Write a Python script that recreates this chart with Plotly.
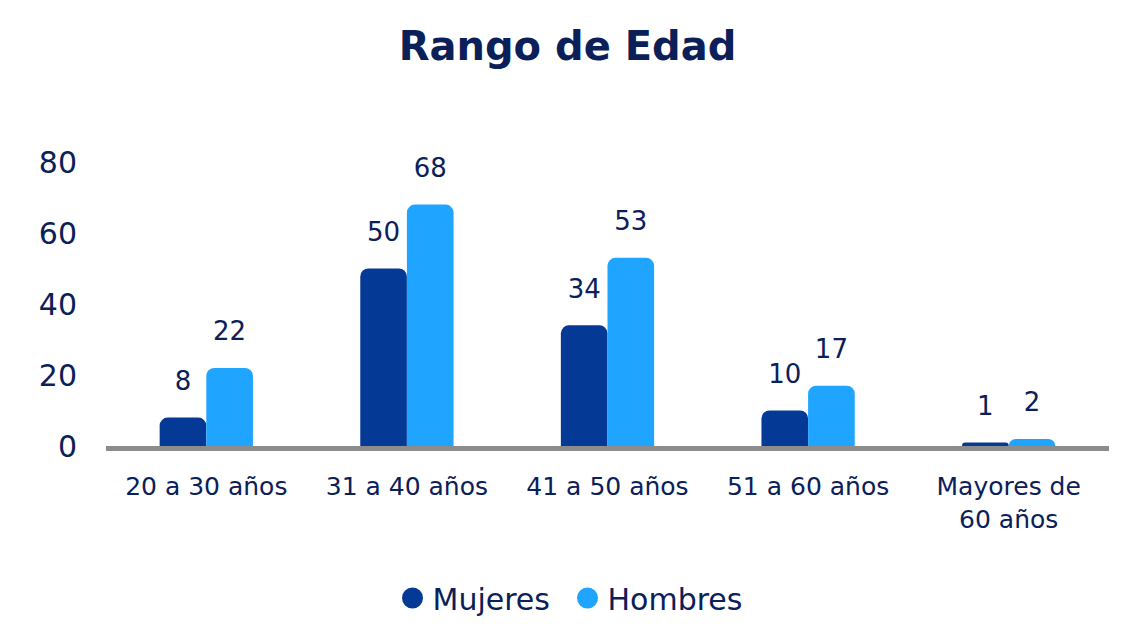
import plotly.graph_objects as go

categories = ["20 a 30 años", "31 a 40 años", "41 a 50 años", "51 a 60 años", "Mayores de<br>60 años"]
mujeres = [8, 50, 34, 10, 1]
hombres = [22, 68, 53, 17, 2]
y_ticks = [0, 20, 40, 60, 80]

NAVY = "#0B2058"
C_MUJ = "#043A96"
C_HOM = "#1FA4FF"
FONT = "DejaVu Sans"

fig = go.Figure()
for name, vals, col in [("Mujeres", mujeres, C_MUJ), ("Hombres", hombres, C_HOM)]:
    fig.add_trace(go.Bar(
        x=categories, y=vals, name=name, marker=dict(color=col, line=dict(width=0)),
        text=vals,
        texttemplate="<span style='font-size:26px'>%{text}</span><br> ",
        textposition="outside",
        textfont=dict(family=FONT, size=16, color=NAVY), cliponaxis=False,
        showlegend=False,
    ))
    fig.add_trace(go.Scatter(
        x=[None], y=[None], mode="markers", name=name,
        marker=dict(symbol="circle", size=16, color=col, line=dict(color=col, width=5)),
    ))

fig.update_layout(
    width=1119, height=627,
    paper_bgcolor="white", plot_bgcolor="white",
    margin=dict(l=98, r=18, t=154, b=189),
    barmode="group", bargap=0.535, bargroupgap=0, barcornerradius=8,
    font=dict(family=FONT, color=NAVY),
    title=dict(text="<b>Rango de Edad</b>", x=0.5, xref="container", xanchor="center",
               y=0.939, yref="container", yanchor="middle",
               font=dict(family=FONT, size=40, color=NAVY)),
    legend=dict(orientation="h", x=0.5, xref="container", xanchor="center",
                y=0.059, yref="container", yanchor="middle",
                font=dict(family=FONT, size=30, color=NAVY), itemwidth=30,
                entrywidth=130, entrywidthmode="pixels"),
)
fig.update_xaxes(showline=True, linecolor="#8C8C8C", linewidth=5, showgrid=False,
                 ticks="", ticklabelstandoff=14,
                 tickfont=dict(family=FONT, size=25, color=NAVY))
fig.update_yaxes(range=[0, 80], tickvals=y_ticks, showgrid=False, zeroline=False,
                 showline=False, ticks="", ticklabelstandoff=28,
                 tickfont=dict(family=FONT, size=30, color=NAVY))

fig.write_html("out.html")
